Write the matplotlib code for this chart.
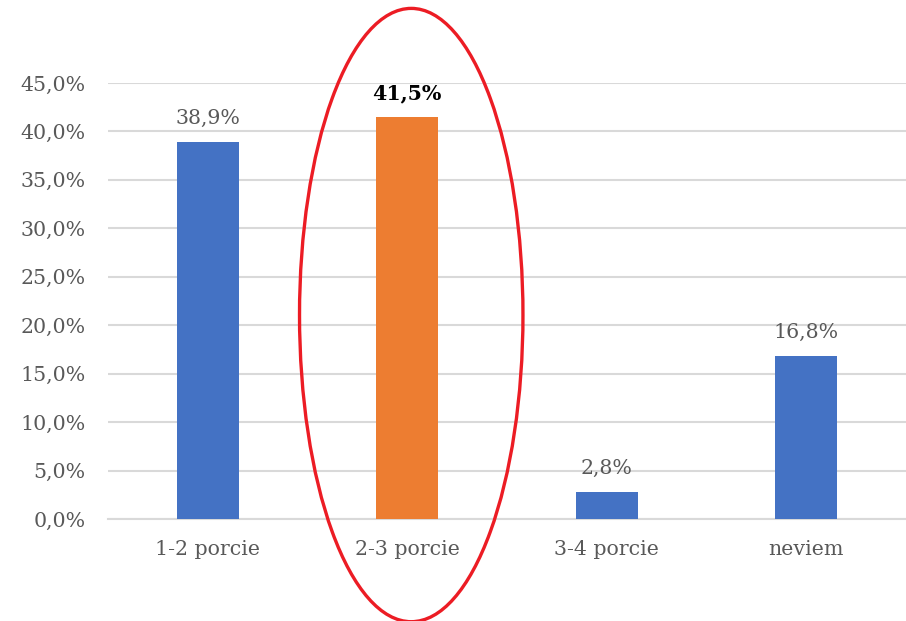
import matplotlib
matplotlib.use("Agg")
import matplotlib.pyplot as plt
from matplotlib.patches import Ellipse
from matplotlib.ticker import FuncFormatter, MultipleLocator

categories = ["1-2 porcie", "2-3 porcie", "3-4 porcie", "neviem"]
values = [38.9, 41.5, 2.8, 16.8]
highlight = [False, True, False, False]

BLUE = "#4472C4"
ORANGE = "#ED7D31"
GRAY_TEXT = "#595959"
GRID = "#D9D9D9"

plt.rcParams["font.family"] = ["DejaVu Serif"]

fig = plt.figure(figsize=(9.06, 6.21), dpi=100)
ax = fig.add_axes([108 / 906, (621 - 519) / 621, 798 / 906, 436 / 621])

x = list(range(len(categories)))
colors = [ORANGE if h else BLUE for h in highlight]
bars = ax.bar(x, values, width=0.31, color=colors, zorder=3)

for xi, v, h in zip(x, values, highlight):
    txt = f"{v:.1f}%".replace(".", ",")
    ax.annotate(txt, (xi, v), xytext=(0, 10), textcoords="offset points",
                ha="center", va="bottom", fontsize=14.8,
                color="black" if h else GRAY_TEXT,
                fontweight="bold" if h else "normal", clip_on=False)

ax.set_xlim(-0.5, len(categories) - 0.5)
ax.set_ylim(0, 45)
ax.yaxis.set_major_locator(MultipleLocator(5))
ax.yaxis.set_major_formatter(FuncFormatter(lambda v, p: f"{v:.1f}%".replace(".", ",")))
ax.set_xticks(x)
ax.set_xticklabels(categories)
ax.tick_params(axis="both", length=0, labelsize=14.8, colors=GRAY_TEXT)
ax.tick_params(axis="x", pad=15)
ax.tick_params(axis="y", pad=16)

ax.grid(axis="y", color=GRID, linewidth=1.5, zorder=0)
for s in ["top", "right", "left"]:
    ax.spines[s].set_visible(False)
ax.spines["bottom"].set_color(GRID)
ax.spines["bottom"].set_linewidth(1.5)

# red highlight ellipse around the second category
ell = Ellipse((1.02, 21.05), width=1.12, height=63.3, fill=False,
              edgecolor="#EC1C24", linewidth=2.4, clip_on=False, zorder=5)
ax.add_patch(ell)

fig.savefig("out.png", dpi=100)
